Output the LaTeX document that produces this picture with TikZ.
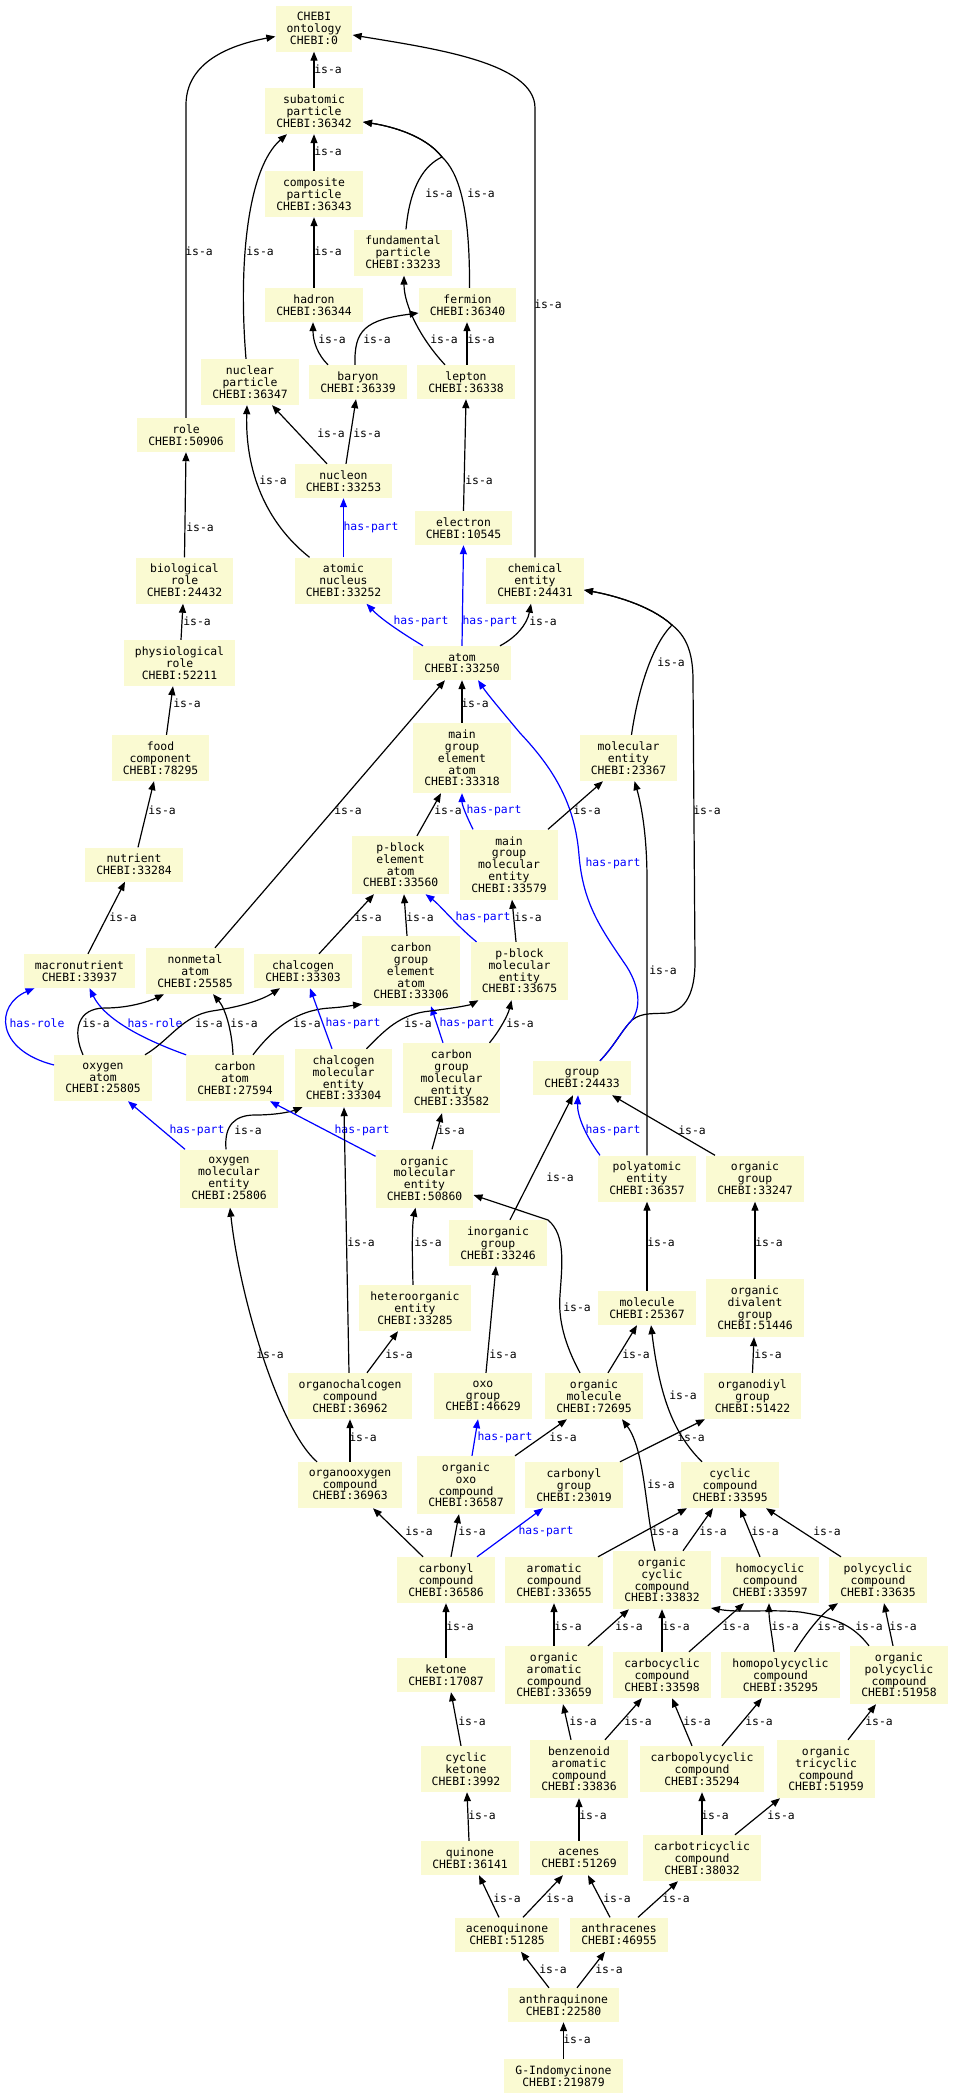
\documentclass[tikz,border=0pt]{standalone}
\usepackage{fontspec}
\usepackage{tikz}
\usetikzlibrary{arrows.meta}
\newfontfamily\chebifont{DejaVu Sans Mono}
\definecolor{chebiyellow}{RGB}{250,250,210}

\begin{document}
\begin{tikzpicture}[x=1pt,y=-1pt,
    ent/.style={fill=chebiyellow, font=\chebifont\fontsize{11.4}{11.8}\selectfont, align=center, inner xsep=11pt, inner ysep=0pt, minimum height={#1*12pt+10pt}},
    ent/.default=2,
    isa/.style={-{Triangle[length=9pt,width=7pt]}, line width=1.2pt},
    haspart/.style={isa, blue},
    lbl/.style={font=\chebifont\fontsize{11.4}{11.8}\selectfont, inner sep=0pt},
    hplbl/.style={lbl, text=blue}]
        \useasboundingbox (0,0) rectangle (954,2099);

        \node[ent=3] (root) at (314,28.5) {CHEBI\\ontology\\CHEBI:0};
        \node[ent=3] (subat) at (314,111) {subatomic\\particle\\CHEBI:36342};
        \node[ent=3] (compp) at (314,194) {composite\\particle\\CHEBI:36343};
        \node[ent] (hadron) at (314,305) {hadron\\CHEBI:36344};
        \node[ent=3] (fundp) at (403,252.5) {fundamental\\particle\\CHEBI:33233};
        \node[ent] (fermion) at (467.5,305) {fermion\\CHEBI:36340};
        \node[ent=3] (nucp) at (250,382) {nuclear\\particle\\CHEBI:36347};
        \node[ent] (baryon) at (358,382) {baryon\\CHEBI:36339};
        \node[ent] (lepton) at (466,382) {lepton\\CHEBI:36338};
        \node[ent] (role) at (186,435) {role\\CHEBI:50906};
        \node[ent] (nucleon) at (343.5,481) {nucleon\\CHEBI:33253};
        \node[ent] (electron) at (463.5,528) {electron\\CHEBI:10545};
        \node[ent=3] (biorole) at (184.5,580.5) {biological\\role\\CHEBI:24432};
        \node[ent=3] (atnuc) at (343.5,580.5) {atomic\\nucleus\\CHEBI:33252};
        \node[ent=3] (chement) at (535,580.5) {chemical\\entity\\CHEBI:24431};
        \node[ent=3] (physrole) at (179.5,663) {physiological\\role\\CHEBI:52211};
        \node[ent] (atom) at (462,663) {atom\\CHEBI:33250};
        \node[ent=3] (foodc) at (160.5,758) {food\\component\\CHEBI:78295};
        \node[ent=5] (mgea) at (462,758) {main\\group\\element\\atom\\CHEBI:33318};
        \node[ent=3] (molent) at (628.5,758) {molecular\\entity\\CHEBI:23367};
        \node[ent] (nutrient) at (134,864.5) {nutrient\\CHEBI:33284};
        \node[ent=4] (pbea) at (400.5,865) {p-block\\element\\atom\\CHEBI:33560};
        \node[ent=5] (mgme) at (509,864.5) {main\\group\\molecular\\entity\\CHEBI:33579};
        \node[ent] (macro) at (79.5,971) {macronutrient\\CHEBI:33937};
        \node[ent=3] (nonmet) at (195,971) {nonmetal\\atom\\CHEBI:25585};
        \node[ent] (chalc) at (303,971) {chalcogen\\CHEBI:33303};
        \node[ent=5] (cgea) at (411,971) {carbon\\group\\element\\atom\\CHEBI:33306};
        \node[ent=4] (pbme) at (519.5,971) {p-block\\molecular\\entity\\CHEBI:33675};
        \node[ent=3] (oxat) at (103,1078) {oxygen\\atom\\CHEBI:25805};
        \node[ent=3] (carbat) at (235,1078) {carbon\\atom\\CHEBI:27594};
        \node[ent=4] (chme) at (343.5,1078) {chalcogen\\molecular\\entity\\CHEBI:33304};
        \node[ent=5] (cgme) at (451.5,1078) {carbon\\group\\molecular\\entity\\CHEBI:33582};
        \node[ent] (group) at (582,1078) {group\\CHEBI:24433};
        \node[ent=4] (oxme) at (229,1178.5) {oxygen\\molecular\\entity\\CHEBI:25806};
        \node[ent=4] (orgme) at (424.5,1178.5) {organic\\molecular\\entity\\CHEBI:50860};
        \node[ent=3] (polyent) at (647,1178.5) {polyatomic\\entity\\CHEBI:36357};
        \node[ent=3] (orggrp) at (755,1178.5) {organic\\group\\CHEBI:33247};
        \node[ent=3] (inorggrp) at (498,1243) {inorganic\\group\\CHEBI:33246};
        \node[ent=3] (hetero) at (415,1308) {heteroorganic\\entity\\CHEBI:33285};
        \node[ent] (molecule) at (647,1308) {molecule\\CHEBI:25367};
        \node[ent=4] (orgdiv) at (755,1308) {organic\\divalent\\group\\CHEBI:51446};
        \node[ent=3] (orgchal) at (350,1396) {organochalcogen\\compound\\CHEBI:36962};
        \node[ent=3] (oxogrp) at (483,1396) {oxo\\group\\CHEBI:46629};
        \node[ent=3] (orgmol) at (594,1396) {organic\\molecule\\CHEBI:72695};
        \node[ent=3] (orgdiyl) at (752.5,1396) {organodiyl\\group\\CHEBI:51422};
        \node[ent=3] (orgoxy) at (350,1485) {organooxygen\\compound\\CHEBI:36963};
        \node[ent=4] (orgoxo) at (466,1485) {organic\\oxo\\compound\\CHEBI:36587};
        \node[ent=3] (carbgrp) at (574,1485) {carbonyl\\group\\CHEBI:23019};
        \node[ent=3] (cyccomp) at (730,1485) {cyclic\\compound\\CHEBI:33595};
        \node[ent=3] (carbcomp) at (446,1580) {carbonyl\\compound\\CHEBI:36586};
        \node[ent=3] (aromcomp) at (554,1580) {aromatic\\compound\\CHEBI:33655};
        \node[ent=4] (orgcyc) at (662,1580) {organic\\cyclic\\compound\\CHEBI:33832};
        \node[ent=3] (homocyc) at (770,1580) {homocyclic\\compound\\CHEBI:33597};
        \node[ent=3] (polycyc) at (878,1580) {polycyclic\\compound\\CHEBI:33635};
        \node[ent] (ketone) at (446,1675) {ketone\\CHEBI:17087};
        \node[ent=4] (orgarom) at (554,1675) {organic\\aromatic\\compound\\CHEBI:33659};
        \node[ent=3] (carbocyc) at (662,1675) {carbocyclic\\compound\\CHEBI:33598};
        \node[ent=3] (homopoly) at (780.5,1675) {homopolycyclic\\compound\\CHEBI:35295};
        \node[ent=4] (orgpoly) at (899,1675) {organic\\polycyclic\\compound\\CHEBI:51958};
        \node[ent=3] (cycket) at (466,1769) {cyclic\\ketone\\CHEBI:3992};
        \node[ent=4] (benzarom) at (579,1769) {benzenoid\\aromatic\\compound\\CHEBI:33836};
        \node[ent=3] (carbpoly) at (702,1769) {carbopolycyclic\\compound\\CHEBI:35294};
        \node[ent=4] (orgtri) at (826,1769) {organic\\tricyclic\\compound\\CHEBI:51959};
        \node[ent] (quinone) at (470,1858) {quinone\\CHEBI:36141};
        \node[ent] (acenes) at (579,1858) {acenes\\CHEBI:51269};
        \node[ent=3] (carbtri) at (702,1858) {carbotricyclic\\compound\\CHEBI:38032};
        \node[ent] (acenoq) at (507,1934.5) {acenoquinone\\CHEBI:51285};
        \node[ent] (anthrac) at (619,1934.5) {anthracenes\\CHEBI:46955};
        \node[ent] (anthraq) at (563.5,2005) {anthraquinone\\CHEBI:22580};
        \node[ent] (gindo) at (563.5,2076) {G-Indomycinone\\CHEBI:219879};

        \draw[isa] (subat.north) -- (root.south) node[lbl] at (328,69) {is-a};
        \draw[isa] (role.north) -- (186,105) .. controls (186,62) and (230,45) .. ([yshift=-8pt]root.west) node[lbl] at (199,251) {is-a};
        \draw[isa] (chement.north) -- (535,108) .. controls (535,62) and (430,48) .. ([yshift=-6.5pt]root.east) node[lbl] at (548,304) {is-a};
        \draw[isa] (compp.north) -- (subat.south) node[lbl] at (328,151) {is-a};
        \draw[isa] ([xshift=-4pt]nucp.north) .. controls (238,262) and (248,168) .. ([xshift=-27pt]subat.south) node[lbl] at (260,251) {is-a};
        \draw[isa] ([xshift=3pt]fundp.north) .. controls (410,185) and (425,165) .. (442,157) .. controls (425,135) and (390,126) .. ([yshift=-11pt]subat.east) node[lbl] at (439,193) {is-a};
        \draw[isa] ([xshift=2pt]fermion.north) .. controls (470,205) and (458,172) .. (442,157) .. controls (425,135) and (390,126) .. ([yshift=-11pt]subat.east) node[lbl] at (481,193) {is-a};
        \draw[isa] (hadron.north) -- (compp.south) node[lbl] at (328,251) {is-a};
        \draw[isa] ([xshift=-30pt]baryon.north) .. controls (318,355) and (313,342) .. ([xshift=-1pt]hadron.south) node[lbl] at (332,339) {is-a};
        \draw[isa] ([xshift=-3pt]baryon.north) .. controls (354,330) and (365,320) .. ([yshift=-8pt]fermion.west) node[lbl] at (377,339) {is-a};
        \draw[isa] ([xshift=-21pt]lepton.north) .. controls (420,338) and (404,305) .. ([xshift=1pt]fundp.south) node[lbl] at (444,339) {is-a};
        \draw[isa] ([xshift=1pt]lepton.north) -- ([xshift=-0.5pt]fermion.south) node[lbl] at (481,339) {is-a};
        \draw[isa] ([xshift=-16.5pt]nucleon.north) -- ([xshift=22pt]nucp.south) node[lbl] at (331,433) {is-a};
        \draw[isa] ([xshift=2.5pt]nucleon.north) -- ([xshift=-2pt]baryon.south) node[lbl] at (367,433) {is-a};
        \draw[isa] ([xshift=-34pt]atnuc.north) .. controls (265,522) and (245,470) .. ([xshift=-3pt]nucp.south) node[lbl] at (273,480) {is-a};
        \draw[haspart] (atnuc.north) -- (nucleon.south) node[hplbl] at (371,527) {has-part};
        \draw[isa] (electron.north) -- (lepton.south) node[lbl] at (479,480) {is-a};
        \draw[isa] (biorole.north) -- (role.south) node[lbl] at (200,527) {is-a};
        \draw[isa] ([xshift=1.5pt]physrole.north) -- ([xshift=-1.5pt]biorole.south) node[lbl] at (197,621) {is-a};
        \draw[isa] ([xshift=6pt]foodc.north) -- ([xshift=-6.5pt]physrole.south) node[lbl] at (187,703) {is-a};
        \draw[isa] ([xshift=4pt]nutrient.north) -- ([xshift=-6.5pt]foodc.south) node[lbl] at (162,810) {is-a};
        \draw[haspart] ([xshift=-39pt]atom.north) .. controls (405,635) and (382,620) .. ([xshift=23pt]atnuc.south) node[hplbl] at (421,621) {has-part};
        \draw[haspart] (atom.north) -- (electron.south) node[hplbl] at (490,621) {has-part};
        \draw[isa] ([xshift=38pt]atom.north) .. controls (515,638) and (527,625) .. ([xshift=-4pt]chement.south) node[lbl] at (543,621) {is-a};
        \draw[isa] ([xshift=3pt]molent.north) .. controls (638,690) and (652,645) .. (672,625) .. controls (650,605) and (612,595) .. ([yshift=-9.5pt]chement.east) node[lbl] at (671,662) {is-a};
        \draw[isa] ([xshift=18pt]group.north) .. controls (615,1045) and (622,1030) .. (632,1020) .. controls (642,1012) and (655,1014) .. (668,1013) .. controls (686,1010) and (695,992) .. (695,962) -- (693,680) .. controls (693,652) and (686,636) .. (672,625) .. controls (650,605) and (612,595) .. ([yshift=-9.5pt]chement.east) node[lbl] at (707,810) {is-a};
        \draw[haspart] ([xshift=18pt]group.north) .. controls (615,1045) and (622,1030) .. (632,1020) .. controls (641,1007) and (640,988) .. (627,967) .. controls (602,930) and (583,905) .. (579,855) .. controls (575,805) and (555,770) .. (520,733) .. controls (505,715) and (488,695) .. ([xshift=16pt]atom.south) node[hplbl] at (613,863) {has-part};
        \draw[isa] (mgea.north) -- (atom.south) node[lbl] at (475,703) {is-a};
        \draw[isa] ([xshift=20pt]nonmet.north) -- ([xshift=-17pt]atom.south) node[lbl] at (348,810) {is-a};
        \draw[isa] ([xshift=16.5pt]pbea.north) -- ([xshift=-21pt]mgea.south) node[lbl] at (448,810) {is-a};
        \draw[haspart] ([xshift=-36pt]mgme.north) .. controls (466,815) and (462,805) .. (mgea.south) node[hplbl] at (494,810) {has-part};
        \draw[isa] ([xshift=39pt]mgme.north) -- ([xshift=-25.5pt]molent.south) node[lbl] at (587,810) {is-a};
        \draw[isa] ([xshift=16pt]chalc.north) -- ([xshift=-26.5pt]pbea.south) node[lbl] at (368,917) {is-a};
        \draw[isa] ([xshift=-4pt]cgea.north) -- ([xshift=3.5pt]pbea.south) node[lbl] at (420,917) {is-a};
        \draw[haspart] ([xshift=-43pt]pbme.north) .. controls (456,925) and (440,905) .. ([xshift=25pt]pbea.south) node[hplbl] at (483,917) {has-part};
        \draw[isa] ([xshift=-3.5pt]pbme.north) -- ([xshift=3pt]mgme.south) node[lbl] at (528,917) {is-a};
        \draw[isa] ([xshift=8.5pt]macro.north) -- ([xshift=-9pt]nutrient.south) node[lbl] at (123,917) {is-a};
        \draw[haspart] ([yshift=13pt]oxat.west) .. controls (-5,1050) and (-5,1005) .. ([xshift=-45pt]macro.south) node[hplbl] at (37,1023) {has-role};
        \draw[haspart] (carbat.north west) .. controls (145,1040) and (105,1020) .. ([xshift=10pt]macro.south) node[hplbl] at (155,1023) {has-role};
        \draw[isa] ([xshift=-20pt]oxat.north) .. controls (72,1030) and (78,1008) .. (105,1008) .. controls (130,1008) and (150,1001) .. ([xshift=-31pt]nonmet.south) node[lbl] at (96,1023) {is-a};
        \draw[isa] ([xshift=42pt]oxat.north) .. controls (170,1040) and (182,1016) .. (212,1011) .. controls (240,1007) and (262,1000) .. ([xshift=-23pt]chalc.south) node[lbl] at (209,1023) {is-a};
        \draw[isa] ([xshift=-2pt]carbat.north) .. controls (232,1030) and (225,1008) .. ([xshift=18pt]nonmet.south) node[lbl] at (244,1023) {is-a};
        \draw[isa] ([xshift=18pt]carbat.north) .. controls (272,1030) and (295,1010) .. (330,1008) .. controls (345,1007) and (355,1005) .. ([yshift=2pt]cgea.south west) node[lbl] at (307,1023) {is-a};
        \draw[haspart] ([xshift=-11.5pt]chme.north) -- ([xshift=7pt]chalc.south) node[hplbl] at (353,1023) {has-part};
        \draw[haspart] ([xshift=-8.5pt]cgme.north) -- ([xshift=20pt]cgea.south) node[hplbl] at (467,1023) {has-part};
        \draw[isa] ([xshift=23pt]chme.north) .. controls (385,1030) and (400,1014) .. (430,1011) .. controls (455,1008) and (470,1005) .. ([xshift=-41pt]pbme.south) node[lbl] at (418,1023) {is-a};
        \draw[isa] ([xshift=38pt]cgme.north) .. controls (500,1030) and (508,1015) .. ([xshift=-8pt]pbme.south) node[lbl] at (520,1023) {is-a};
        \draw[haspart] ([xshift=-44pt]oxme.north) -- ([xshift=25pt]oxat.south) node[hplbl] at (197,1130) {has-part};
        \draw[isa] ([xshift=-3pt]oxme.north) .. controls (224,1125) and (235,1115) .. (255,1115) .. controls (275,1115) and (290,1112) .. ([xshift=-41pt]chme.south) node[lbl] at (248,1130) {is-a};
        \draw[haspart] ([yshift=-7pt]orgme.north west) -- ([xshift=35pt]carbat.south) node[hplbl] at (362,1130) {has-part};
        \draw[isa] ([xshift=7.5pt]orgme.north) -- ([xshift=-9.5pt]cgme.south) node[lbl] at (451,1130) {is-a};
        \draw[haspart] ([xshift=-47pt]polyent.north) .. controls (585,1135) and (577,1115) .. ([xshift=-4pt]group.south) node[hplbl] at (613,1130) {has-part};
        \draw[isa] ([xshift=-40pt]orggrp.north) -- ([xshift=30pt]group.south) node[lbl] at (692,1130) {is-a};
        \draw[isa] (polyent.north) -- (647,880) .. controls (647,830) and (640,800) .. ([xshift=6pt]molent.south) node[lbl] at (663,970) {is-a};
        \draw[isa] ([xshift=12pt]inorggrp.north) -- ([xshift=-9pt]group.south) node[lbl] at (560,1177) {is-a};
        \draw[isa] ([xshift=-1pt]orgchal.north) -- ([xshift=0.5pt]chme.south) node[lbl] at (361,1242) {is-a};
        \draw[isa] ([xshift=-2pt]hetero.north) .. controls (412,1250) and (412,1225) .. ([xshift=-9pt]orgme.south) node[lbl] at (428,1242) {is-a};
        \draw[isa] ([xshift=-14pt]orgmol.north) .. controls (565,1345) and (558,1320) .. (560,1295) .. controls (562,1265) and (566,1235) .. (548,1220) -- ([yshift=-16.5pt]orgme.east) node[lbl] at (577,1307) {is-a};
        \draw[isa] ([xshift=17pt]orgchal.north) -- ([xshift=-17pt]hetero.south) node[lbl] at (399,1354) {is-a};
        \draw[isa] ([xshift=3pt]oxogrp.north) -- ([xshift=-2pt]inorggrp.south) node[lbl] at (503,1354) {is-a};
        \draw[isa] ([xshift=14pt]orgmol.north) -- ([xshift=-10pt]molecule.south) node[lbl] at (636,1354) {is-a};
        \draw[isa] (orgdiyl.north) -- ([xshift=-1pt]orgdiv.south) node[lbl] at (768,1354) {is-a};
        \draw[isa] (molecule.north) -- (polyent.south) node[lbl] at (661,1242) {is-a};
        \draw[isa] (orgdiv.north) -- (orggrp.south) node[lbl] at (769,1242) {is-a};
        \draw[isa] ([xshift=-28pt]cyccomp.north) .. controls (675,1435) and (660,1400) .. ([xshift=4pt]molecule.south) node[lbl] at (683,1395) {is-a};
        \draw[isa] ([xshift=-33pt]orgoxy.north) .. controls (280,1430) and (240,1300) .. ([xshift=1pt]oxme.south) node[lbl] at (270,1354) {is-a};
        \draw[isa] (orgoxy.north) -- (orgchal.south) node[lbl] at (363,1437) {is-a};
        \draw[haspart] ([xshift=6pt]orgoxo.north) -- ([xshift=-5pt]oxogrp.south) node[hplbl] at (505,1437) {has-part};
        \draw[isa] ([xshift=49pt]orgoxo.north) -- ([xshift=-27pt]orgmol.south) node[lbl] at (563,1437) {is-a};
        \draw[isa] ([xshift=46pt]carbgrp.north) -- ([xshift=-47.5pt]orgdiyl.south) node[lbl] at (691,1437) {is-a};
        \draw[isa] ([xshift=-23pt]carbcomp.north) -- ([xshift=23pt]orgoxy.south) node[lbl] at (419,1531) {is-a};
        \draw[isa] ([xshift=5pt]carbcomp.north) -- ([xshift=-7pt]orgoxo.south) node[lbl] at (472,1531) {is-a};
        \draw[haspart] ([xshift=31pt]carbcomp.north) -- ([xshift=-31pt]carbgrp.south) node[hplbl] at (546,1531) {has-part};
        \draw[isa] ([xshift=44pt]aromcomp.north) -- ([xshift=-43pt]cyccomp.south) node[lbl] at (665,1531) {is-a};
        \draw[isa] ([xshift=-7pt]orgcyc.north) .. controls (645,1510) and (645,1450) .. ([xshift=28pt]orgmol.south) node[lbl] at (661,1484) {is-a};
        \draw[isa] ([xshift=21pt]orgcyc.north) -- ([xshift=-17pt]cyccomp.south) node[lbl] at (713,1531) {is-a};
        \draw[isa] ([xshift=-10pt]homocyc.north) -- ([xshift=10pt]cyccomp.south) node[lbl] at (765,1531) {is-a};
        \draw[isa] ([xshift=-37pt]polycyc.north) -- ([xshift=36pt]cyccomp.south) node[lbl] at (827,1531) {is-a};
        \draw[isa] (ketone.north) -- (carbcomp.south) node[lbl] at (460,1626) {is-a};
        \draw[isa] (orgarom.north) -- (aromcomp.south) node[lbl] at (568,1626) {is-a};
        \draw[isa] ([xshift=34pt]orgarom.north) -- ([xshift=-33pt]orgcyc.south) node[lbl] at (629,1626) {is-a};
        \draw[isa] (carbocyc.north) -- (orgcyc.south) node[lbl] at (676,1626) {is-a};
        \draw[isa] ([xshift=27pt]carbocyc.north) -- ([xshift=-26pt]homocyc.south) node[lbl] at (736,1626) {is-a};
        \draw[isa] ([xshift=-6.5pt]homopoly.north) .. controls (772,1635) and (769,1620) .. ([xshift=-1pt]homocyc.south) node[lbl] at (785,1626) {is-a};
        \draw[isa] ([xshift=14pt]homopoly.north) .. controls (805,1635) and (820,1615) .. ([xshift=-40pt]polycyc.south) node[lbl] at (831,1626) {is-a};
        \draw[isa] ([xshift=-30pt]orgpoly.north) .. controls (855,1628) and (840,1618) .. (800,1612) .. controls (770,1609) and (740,1613) .. ([yshift=-28pt]orgcyc.east) node[lbl] at (869,1626) {is-a};
        \draw[isa] ([xshift=-6pt]orgpoly.north) -- ([xshift=6pt]polycyc.south) node[lbl] at (903,1626) {is-a};
        \draw[isa] ([xshift=-5pt]cycket.north) -- ([xshift=5pt]ketone.south) node[lbl] at (472,1721) {is-a};
        \draw[isa] ([xshift=-8pt]benzarom.north) -- ([xshift=9pt]orgarom.south) node[lbl] at (583,1721) {is-a};
        \draw[isa] ([xshift=26pt]benzarom.north) -- ([xshift=-20pt]carbocyc.south) node[lbl] at (638,1721) {is-a};
        \draw[isa] ([xshift=-10pt]carbpoly.north) -- ([xshift=10pt]carbocyc.south) node[lbl] at (697,1721) {is-a};
        \draw[isa] ([xshift=20pt]carbpoly.north) -- ([xshift=-18.5pt]homopoly.south) node[lbl] at (759,1721) {is-a};
        \draw[isa] ([xshift=22pt]orgtri.north) -- ([xshift=-23pt]orgpoly.south) node[lbl] at (879,1721) {is-a};
        \draw[isa] ([xshift=-1pt]quinone.north) -- ([xshift=1pt]cycket.south) node[lbl] at (482,1815) {is-a};
        \draw[isa] (acenes.north) -- (benzarom.south) node[lbl] at (593,1815) {is-a};
        \draw[isa] (carbtri.north) -- (carbpoly.south) node[lbl] at (715,1815) {is-a};
        \draw[isa] ([xshift=33pt]carbtri.north) -- ([xshift=-46pt]orgtri.south) node[lbl] at (781,1815) {is-a};
        \draw[isa] ([xshift=-8pt]acenoq.north) -- ([xshift=9pt]quinone.south) node[lbl] at (507,1898) {is-a};
        \draw[isa] ([xshift=16pt]acenoq.north) -- ([xshift=-16pt]acenes.south) node[lbl] at (560,1898) {is-a};
        \draw[isa] ([xshift=-9pt]anthrac.north) -- ([xshift=9pt]acenes.south) node[lbl] at (617,1898) {is-a};
        \draw[isa] ([xshift=19pt]anthrac.north) -- ([xshift=-24pt]carbtri.south) node[lbl] at (676,1898) {is-a};
        \draw[isa] ([xshift=-14.5pt]anthraq.north) -- ([xshift=14pt]acenoq.south) node[lbl] at (553,1969) {is-a};
        \draw[isa] ([xshift=13.5pt]anthraq.north) -- ([xshift=-14pt]anthrac.south) node[lbl] at (609,1969) {is-a};
        \draw[isa] (gindo.north) -- (anthraq.south) node[lbl] at (577,2039) {is-a};
    \end{tikzpicture}
\end{document}
